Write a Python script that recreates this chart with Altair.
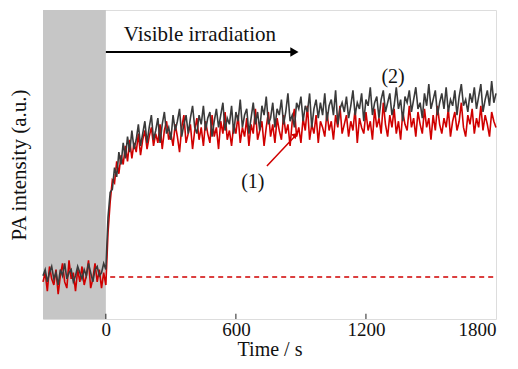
import altair as alt
import pandas as pd

# time axis (s), sampled every 10 s
times = list(range(-290, 1801, 10))

# curve (2): dark grey
grey_vals = [
    14, 16, 12, 15, 17, 13, 15, 11, 16, 14,
    18, 13, 15, 16, 12, 14, 17, 15, 13, 16,
    14, 18, 15, 12, 16, 17, 14, 15, 18, 16,
    33, 41, 42, 49, 46, 54, 50, 57, 52, 59,
    54, 61, 55, 58, 63, 56, 60, 64, 57, 62,
    66, 58, 61, 65, 57, 63, 67, 60, 62, 58,
    66, 61, 64, 68, 59, 63, 66, 60, 65, 69,
    62, 60, 66, 63, 69, 61, 65, 67, 59, 64,
    68, 62, 66, 70, 61, 65, 63, 69, 60, 67,
    64, 71, 62, 66, 68, 60, 65, 70, 63, 67,
    61, 69, 66, 72, 63, 65, 70, 62, 68, 66,
    71, 63, 67, 73, 64, 66, 62, 70, 68, 72,
    64, 69, 67, 73, 62, 68, 71, 65, 70, 66,
    73, 64, 69, 71, 66, 74, 63, 68, 70, 67,
    72, 65, 69, 74, 66, 70, 68, 73, 64, 71,
    69, 75, 66, 70, 72, 65, 71, 74, 67, 70,
    73, 66, 69, 75, 68, 71, 64, 72, 70, 74,
    67, 71, 75, 68, 70, 65, 73, 69, 76, 68,
    71, 74, 66, 70, 73, 68, 75, 67, 71, 69,
    74, 66, 72, 76, 69, 71, 67, 73, 70, 75,
    68, 72, 76, 67, 71, 74, 69, 77, 70, 73,
]

# curve (1): red
red_vals = [
    12, 15, 9, 17, 13, 11, 16, 8, 14, 18,
    12, 10, 19, 13, 15, 9, 16, 12, 17, 11,
    14, 19, 10, 13, 18, 12, 16, 10, 15, 11,
    28, 38, 45, 44, 51, 47, 53, 50, 56, 51,
    58, 52, 57, 54, 60, 53, 58, 61, 55, 59,
    62, 56, 60, 57, 63, 55, 61, 64, 58, 60,
    56, 63, 59, 54, 62, 66, 57, 60, 63, 55,
    61, 65, 58, 62, 56, 64, 60, 57, 66, 59,
    62, 55, 64, 60, 67, 58, 61, 56, 63, 60,
    66, 57, 62, 59, 65, 56, 63, 60, 68, 58,
    61, 64, 56, 62, 67, 59, 63, 57, 65, 61,
    58, 66, 60, 63, 56, 64, 68, 59, 62, 57,
    65, 61, 69, 58, 63, 60, 66, 57, 64, 62,
    59, 67, 61, 64, 58, 66, 62, 69, 60, 63,
    66, 59, 64, 61, 68, 57, 65, 62, 60, 67,
    61, 64, 58, 68, 62, 65, 60, 70, 63, 59,
    66, 62, 68, 60, 64, 58, 67, 63, 61, 69,
    62, 65, 59, 67, 63, 60, 68, 62, 65, 58,
    66, 61, 69, 63, 60, 65, 62, 68, 59, 64,
    67, 61, 64, 70, 62, 59, 66, 63, 68, 60,
    65, 62, 69, 61, 66, 63, 59, 67, 64, 62,
]

tick_values = [0, 600, 1200, 1800]
baseline_level = 13.6
dark_start, dark_end = -290, 0

df_grey = pd.DataFrame({"t": times, "v": grey_vals})
df_red = pd.DataFrame({"t": times, "v": red_vals})

X_DOM = [-290, 1800]
Y_DOM = [0, 100]
FONT = "Liberation Serif"

xs = alt.Scale(domain=X_DOM, nice=False, zero=False)
ys = alt.Scale(domain=Y_DOM, nice=False, zero=False)

x_axis = alt.Axis(values=tick_values, format="d", title="Time / s", grid=False, ticks=False,
                  domain=False, labelFont=FONT, labelFontSize=19, labelColor="#111",
                  labelPadding=1, titleFont=FONT, titleFontSize=20,
                  titleFontWeight="normal", titleColor="#111", titlePadding=0)
y_axis = alt.Axis(labels=False, ticks=False, grid=False, domain=False,
                  title="PA intensity (a.u.)", titleFont=FONT, titleFontSize=21,
                  titleFontWeight="normal", titleColor="#111", titlePadding=14)

shade = alt.Chart(pd.DataFrame({"a": [dark_start], "b": [dark_end], "y0": [0], "y1": [100]})).mark_rect(
    color="#c6c6c6").encode(
    x=alt.X("a:Q", scale=xs, axis=x_axis), x2="b:Q",
    y=alt.Y("y0:Q", scale=ys, axis=y_axis), y2="y1:Q")

base_line = alt.Chart(pd.DataFrame({"a": [20], "b": [1800], "y": [baseline_level]})).mark_rule(
    color="#d00000", strokeDash=[5, 4], strokeWidth=1.5).encode(
    x=alt.X("a:Q", scale=xs), x2="b:Q", y=alt.Y("y:Q", scale=ys))

red_line = alt.Chart(df_red).mark_line(color="#d00000", strokeWidth=1.6).encode(
    x=alt.X("t:Q", scale=xs), y=alt.Y("v:Q", scale=ys))
grey_line = alt.Chart(df_grey).mark_line(color="#3a3a3a", strokeWidth=1.6).encode(
    x=alt.X("t:Q", scale=xs), y=alt.Y("v:Q", scale=ys))

arrow_df = pd.DataFrame({"a": [0], "b": [865], "y": [86.4]})
arrow_shaft = alt.Chart(arrow_df).mark_rule(color="black", strokeWidth=2).encode(
    x=alt.X("a:Q", scale=xs), x2="b:Q", y=alt.Y("y:Q", scale=ys))
arrow_head = alt.Chart(pd.DataFrame({"x": [870], "y": [86.4]})).mark_point(
    shape="triangle-right", filled=True, color="black", size=90, opacity=1).encode(
    x=alt.X("x:Q", scale=xs), y=alt.Y("y:Q", scale=ys))

label_df = pd.DataFrame({"x": [434], "y": [92.0], "txt": ["Visible irradiation"]})
label = alt.Chart(label_df).mark_text(font=FONT, fontSize=21, color="#111").encode(
    x=alt.X("x:Q", scale=xs), y=alt.Y("y:Q", scale=ys), text="txt:N")

red_arrow = alt.Chart(pd.DataFrame({"a": [743], "b": [870], "y": [49.5], "y2": [59.0]})).mark_rule(
    color="#d00000", strokeWidth=1.5).encode(
    x=alt.X("a:Q", scale=xs), x2="b:Q", y=alt.Y("y:Q", scale=ys), y2="y2:Q")
red_head = alt.Chart(pd.DataFrame({"x": [875], "y": [59.6]})).mark_point(
    shape="triangle-up", filled=True, color="#d00000", size=45, angle=50, opacity=1).encode(
    x=alt.X("x:Q", scale=xs), y=alt.Y("y:Q", scale=ys))

ann_df = pd.DataFrame({"x": [678, 1325], "y": [44.3, 78.3], "txt": ["(1)", "(2)"]})
ann = alt.Chart(ann_df).mark_text(font=FONT, fontSize=20, color="#111").encode(
    x=alt.X("x:Q", scale=xs), y=alt.Y("y:Q", scale=ys), text="txt:N")

ticks_df = pd.DataFrame({"x": tick_values[:3], "y0": [0, 0, 0], "y1": [1.7, 1.7, 1.7]})
ticks = alt.Chart(ticks_df).mark_rule(color="#222", strokeWidth=1).encode(
    x=alt.X("x:Q", scale=xs), y=alt.Y("y0:Q", scale=ys), y2="y1:Q")

chart = alt.layer(shade, base_line, red_line, grey_line, arrow_shaft, arrow_head,
                  label, red_arrow, red_head, ann, ticks).properties(
    width=453, height=309,
    autosize=alt.AutoSizeParams(type="none"),
    padding={"left": 35, "top": 2, "right": 14, "bottom": 42},
).configure_view(stroke="#333", strokeWidth=1.5).configure(background="white")

chart.save("out.html", embed_options={"renderer": "svg", "actions": False})
